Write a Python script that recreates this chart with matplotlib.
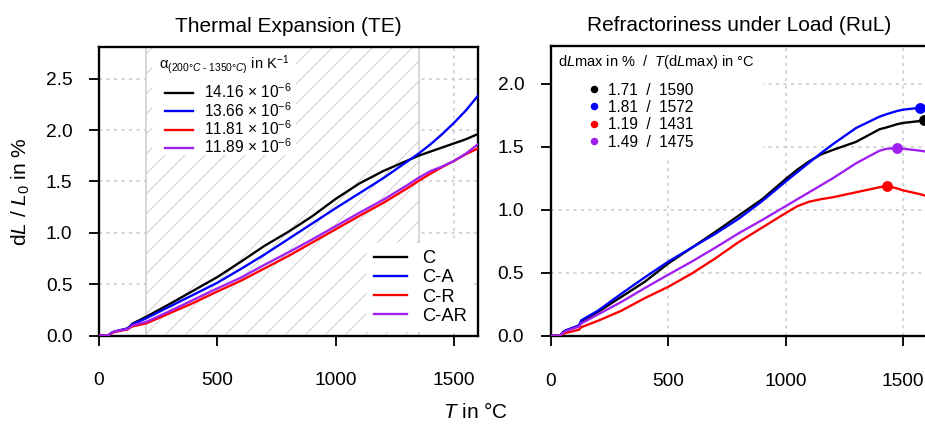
import matplotlib
matplotlib.use("Agg")
import matplotlib.pyplot as plt
from matplotlib.lines import Line2D
from matplotlib.patches import Rectangle
from matplotlib.ticker import FormatStrFormatter

# ---------------- data ----------------
names = ["C", "C-A", "C-R", "C-AR"]
colors = ["#000000", "#0000ff", "#ff0000", "#a020f0"]
alpha_vals = ["14.16", "13.66", "11.81", "11.89"]

# Thermal expansion (TE)
te_T = [0, 40, 55, 65, 120, 130, 140, 200, 300, 400, 500, 600, 700, 800, 900,
        1000, 1100, 1200, 1300, 1350, 1400, 1450, 1500, 1550, 1600]
te_C = [0, 0.005, 0.03, 0.04, 0.07, 0.09, 0.115, 0.185, 0.31, 0.44, 0.57, 0.72,
        0.875, 1.01, 1.16, 1.33, 1.48, 1.60, 1.70, 1.75, 1.79, 1.83, 1.87, 1.91, 1.96]
te_CA = [0, 0.005, 0.03, 0.04, 0.07, 0.085, 0.11, 0.17, 0.285, 0.40, 0.515, 0.65,
         0.79, 0.94, 1.09, 1.24, 1.385, 1.53, 1.69, 1.77, 1.86, 1.96, 2.07, 2.19, 2.33]
te_CR = [0, 0.005, 0.025, 0.035, 0.06, 0.075, 0.09, 0.12, 0.22, 0.32, 0.43, 0.535,
         0.655, 0.775, 0.905, 1.035, 1.165, 1.29, 1.43, 1.505, 1.575, 1.64, 1.70, 1.765, 1.82]
te_CAR = [0, 0.005, 0.03, 0.04, 0.065, 0.08, 0.10, 0.135, 0.24, 0.35, 0.46, 0.565,
          0.69, 0.81, 0.935, 1.065, 1.195, 1.32, 1.46, 1.535, 1.60, 1.645, 1.70, 1.77, 1.86]

# Refractoriness under load (RuL)
rul_T = [0, 40, 55, 65, 120, 130, 200, 300, 400, 500, 600, 700, 800, 900, 1000,
         1050, 1100, 1150, 1200, 1300, 1400, 1431, 1475, 1500, 1572, 1590, 1600]
rul_C = [0, 0.005, 0.035, 0.045, 0.08, 0.11, 0.19, 0.31, 0.43, 0.575, 0.70, 0.825,
         0.955, 1.085, 1.245, 1.32, 1.385, 1.44, 1.475, 1.54, 1.64, 1.655, 1.68, 1.69,
         1.705, 1.71, 1.71]
rul_CA = [0, 0.005, 0.035, 0.045, 0.085, 0.125, 0.20, 0.335, 0.465, 0.59, 0.70, 0.81,
          0.93, 1.07, 1.225, 1.30, 1.375, 1.45, 1.52, 1.65, 1.74, 1.76, 1.785, 1.795,
          1.81, 1.81, 1.81]
rul_CR = [0, 0.005, 0.02, 0.025, 0.05, 0.07, 0.12, 0.20, 0.30, 0.39, 0.495, 0.615,
          0.745, 0.86, 0.975, 1.03, 1.065, 1.085, 1.10, 1.14, 1.18, 1.19, 1.17, 1.155,
          1.125, 1.115, 1.11]
rul_CAR = [0, 0.005, 0.03, 0.04, 0.075, 0.10, 0.17, 0.27, 0.38, 0.486, 0.59, 0.70,
           0.815, 0.92, 1.03, 1.085, 1.14, 1.195, 1.25, 1.37, 1.47, 1.485, 1.49, 1.485,
           1.47, 1.465, 1.46]

peak_T = [1590, 1572, 1431, 1475]
peak_dL = [1.71, 1.81, 1.19, 1.49]

te_series = [te_C, te_CA, te_CR, te_CAR]
rul_series = [rul_C, rul_CA, rul_CR, rul_CAR]

span_lo, span_hi = 200, 1350
xticks = [0, 500, 1000, 1500]
yticks_te = [0, 0.5, 1.0, 1.5, 2.0, 2.5]
yticks_rul = [0, 0.5, 1.0, 1.5, 2.0]

# ---------------- style ----------------
plt.rcParams["font.family"] = ["Liberation Sans", "DejaVu Sans"]
plt.rcParams["mathtext.fontset"] = "custom"
plt.rcParams["mathtext.rm"] = "Liberation Sans"
plt.rcParams["mathtext.it"] = "Liberation Sans:italic"
plt.rcParams["mathtext.bf"] = "Liberation Sans:bold"
plt.rcParams["hatch.linewidth"] = 0.6

DPI = 120
W, H = 925, 424
fig = plt.figure(figsize=(W / DPI, H / DPI), dpi=DPI)
ax1 = fig.add_axes([99 / W, 1 - 335.7 / H, 378.7 / W, 289 / H])
ax2 = fig.add_axes([550.8 / W, 1 - 336 / H, 375.8 / W, 290 / H])

grid_kw = dict(color="#c8c8c8", linestyle=(0, (2, 3)), linewidth=0.9)
for ax in (ax1, ax2):
    ax.set_axisbelow(True)
    ax.grid(True, **grid_kw)
    for s in ax.spines.values():
        s.set_linewidth(1.4)
    ax.tick_params(direction="out", length=6, width=1.1, labelsize=11.5)
    ax.tick_params(axis="x", pad=16)
    ax.tick_params(axis="y", pad=10)
    ax.set_xlim(0, 1600)
    ax.set_xticks(xticks)
    ax.yaxis.set_major_formatter(FormatStrFormatter("%.1f"))

TITLE_FS = 8.8
LEG_FS = 9.3

# ---- TE ----
ax1.axvspan(span_lo, span_hi, facecolor="white", edgecolor="#d0d0d0",
            hatch="//", linewidth=1.0, zorder=1)
for y, c in zip(te_series, colors):
    ax1.plot(te_T, y, color=c, lw=1.4, zorder=3)
ax1.set_ylim(0, 2.81)
ax1.set_yticks(yticks_te)
ax1.set_title("Thermal Expansion (TE)", fontsize=12.5, pad=9)
ax1.set_ylabel(r"d$L$ / $L_0$ in %", fontsize=12.5, labelpad=8)

# alpha legend: white box + title + entries
ax1.add_patch(Rectangle((0.140, 0.625), 0.380, 0.375, transform=ax1.transAxes,
                        facecolor="white", edgecolor="none", zorder=2))
ax1.text(0.158, 0.937, r"α$_{(200°C\ \text{-}\ 1350°C)}$ in K$^{-1}$",
         transform=ax1.transAxes, fontsize=TITLE_FS, ha="left", va="center", zorder=6)
h_alpha = [Line2D([], [], color=c, lw=1.4) for c in colors]
leg1 = ax1.legend(h_alpha, [rf"{a} $\times$ 10$^{{-6}}$" for a in alpha_vals],
                  loc="upper left", bbox_to_anchor=(0.174, 0.876), borderaxespad=0,
                  borderpad=0, frameon=False, fontsize=LEG_FS, labelspacing=-0.02,
                  handlelength=1.8, handletextpad=0.75)
leg1.set_zorder(6)
ax1.add_artist(leg1)
h_names = [Line2D([], [], color=c, lw=1.4) for c in colors]
leg2 = ax1.legend(h_names, names, loc="lower right", fontsize=11, framealpha=1,
                  edgecolor="none", fancybox=False, labelspacing=0.12,
                  handlelength=1.8, handletextpad=0.8, borderaxespad=0.2)
leg2.set_zorder(6)

# ---- RuL ----
for y, c in zip(rul_series, colors):
    ax2.plot(rul_T, y, color=c, lw=1.4, zorder=3)
for t, d, c in zip(peak_T, peak_dL, colors):
    ax2.plot([t], [d], "o", color=c, ms=5.5, zorder=4)
ax2.set_ylim(0, 2.3)
ax2.set_yticks(yticks_rul)
ax2.set_title("Refractoriness under Load (RuL)", fontsize=12.5, pad=9)

ax2.add_patch(Rectangle((0.0, 0.614), 0.565, 0.386, transform=ax2.transAxes,
                        facecolor="white", edgecolor="none", zorder=2))
ax2.text(0.019, 0.946, r"d$L$max in %  /  $T$(d$L$max) in °C",
         transform=ax2.transAxes, fontsize=TITLE_FS, ha="left", va="center", zorder=6)
h_peak = [Line2D([], [], color=c, marker="o", ls="none", ms=3.5) for c in colors]
leg3 = ax2.legend(h_peak, [f"{d:.2f}  /  {t}" for d, t in zip(peak_dL, peak_T)],
                  loc="upper left", bbox_to_anchor=(0.0943, 0.874), borderaxespad=0,
                  borderpad=0, frameon=False, fontsize=LEG_FS, labelspacing=0.15,
                  handlelength=1.0, handletextpad=0.4)
leg3.set_zorder(6)

fig.text(476 / W, 1 - 412 / H, r"$T$ in °C", ha="center", va="center", fontsize=12.5)

fig.savefig("out.png", dpi=DPI)
